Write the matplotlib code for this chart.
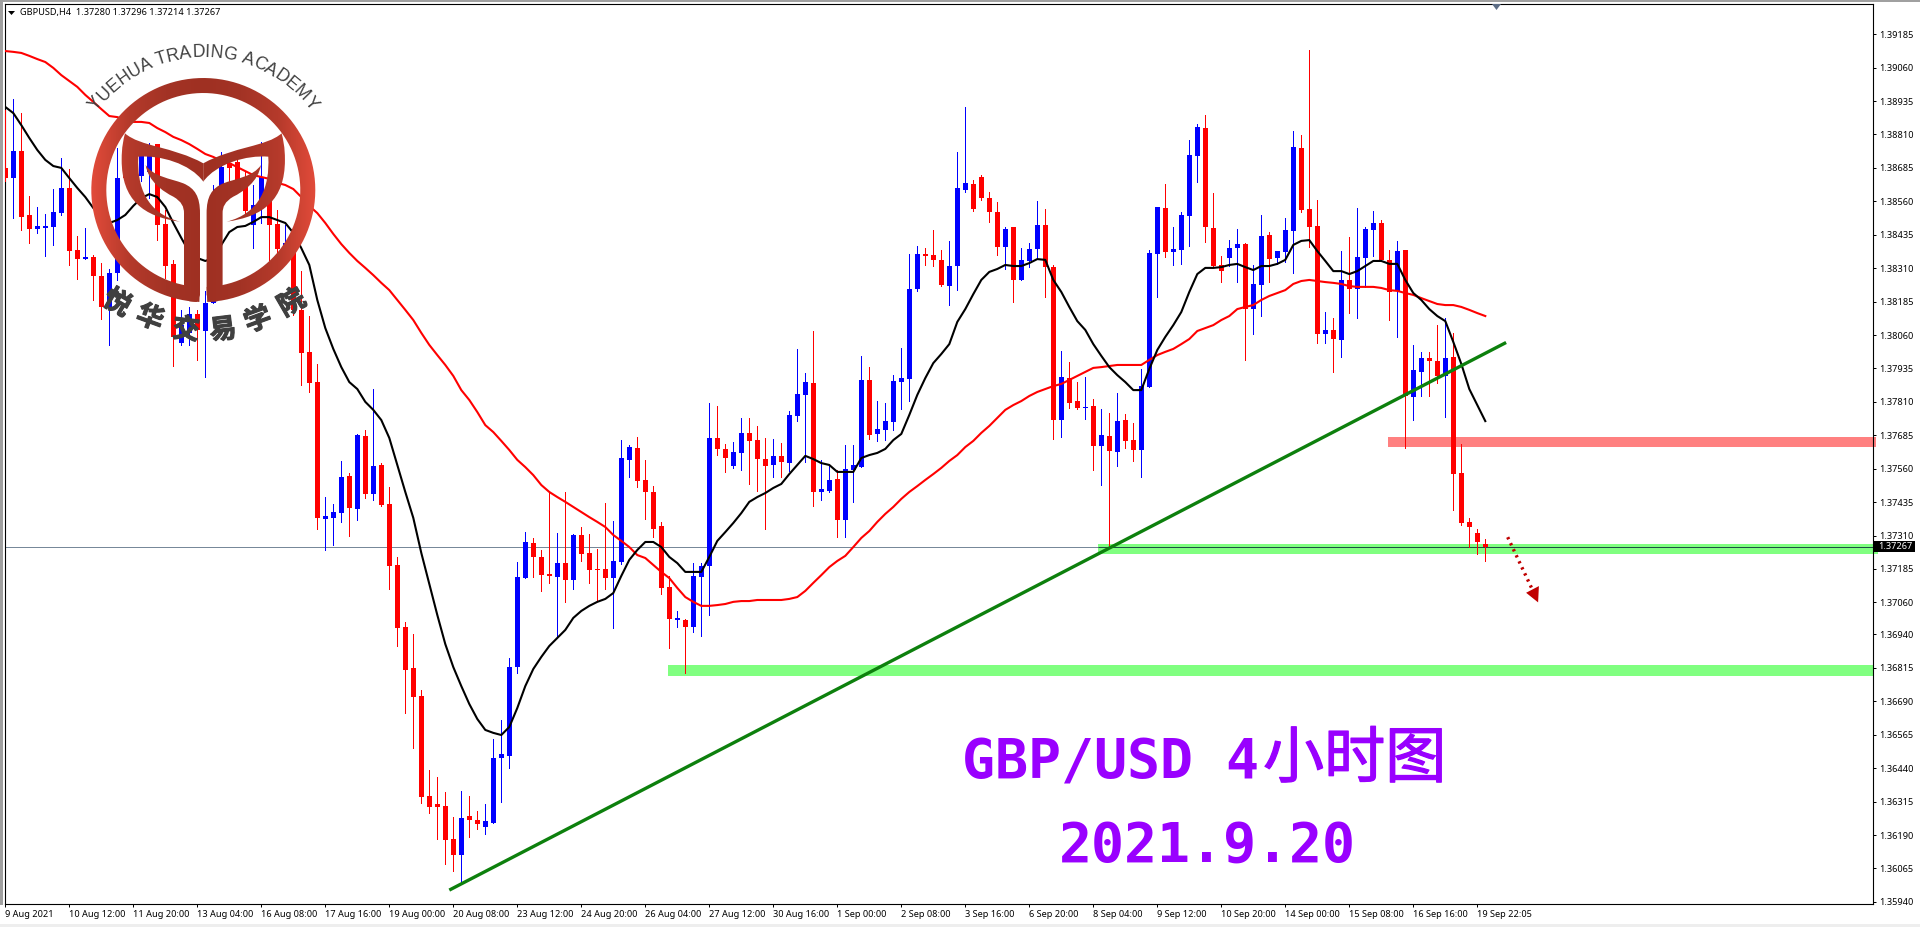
import numpy as np
import matplotlib
matplotlib.use('Agg')
import matplotlib.pyplot as plt
import matplotlib.patheffects as pe
from matplotlib.colors import LinearSegmentedColormap
from matplotlib.patches import PathPatch, Polygon, Rectangle
from matplotlib.path import Path

# GBPUSD H4 candles, prices in points (1.37267 -> 137267)
opens = [
    138685,138647,138748,138509,138457,138460,138464,138516,138610,138378,
    138344,138352,138281,138165,138292,138700,138670,138655,138670,138774,
    138475,138326,138030,138068,138139,138075,138180,138565,138703,138707,
    138640,138471,138546,138640,138475,138374,138378,138154,137997,137884,
    137372,137376,137394,137533,137409,137682,137465,137574,137428,137200,
    136968,136815,136710,136336,136306,136299,136175,136115,136261,136246,
    136220,136235,136478,136486,136818,137151,137282,137230,137166,137155,
    137207,137144,137312,137245,137185,137185,137151,137211,137593,137637,
    137518,137473,137346,137118,136994,136994,136968,137155,137196,137675,
    137634,137570,137619,137694,137667,137596,137574,137608,137581,137757,
    137836,137881,137473,137477,137522,137368,137555,137566,137892,137690,
    137705,137735,137884,137896,138232,138363,138359,138341,138243,138318,
    138602,138625,138651,138572,138520,138389,138464,138266,138337,138382,
    138471,138314,137742,137899,137813,137787,137795,137645,137682,137623,
    137742,137667,137630,137866,138363,138535,138370,138378,138505,138730,
    138834,138460,138322,138348,138385,138400,138157,138247,138434,138348,
    138370,138449,138759,138531,138468,138064,138079,138041,138266,138232,
    138348,138453,138479,138341,138225,138378,137828,137922,137974,137963,
    137907,137978,137544,137361,137320,137280]
highs = [
    138902,138943,138890,138580,138539,138513,138606,138722,138681,138430,
    138460,138359,138329,138307,138759,138733,138752,138771,138778,138774,
    138528,138341,138154,138165,138154,138225,138621,138745,138733,138715,
    138670,138621,138782,138658,138528,138471,138397,138299,138131,137952,
    137454,137428,137589,137544,137690,137705,137858,137581,137492,137230,
    136987,136942,136732,136433,136407,136351,136257,136355,136336,136280,
    136306,136549,136620,136852,137211,137323,137301,137256,137477,137320,
    137473,137316,137342,137316,137260,137432,137364,137667,137649,137679,
    137593,137495,137361,137159,137028,136998,137207,137207,137806,137795,
    137652,137660,137750,137750,137720,137675,137671,137656,137776,138008,
    137918,138075,137593,137574,137555,137649,137649,137982,137940,137813,
    137806,137910,138011,138363,138393,138385,138453,138378,138412,138745,
    138913,138640,138658,138595,138558,138464,138464,138385,138404,138561,
    138531,138322,138000,137959,137884,137903,137821,137783,137768,137843,
    137765,137731,137933,138378,138539,138625,138464,138520,138789,138849,
    138883,138591,138356,138415,138457,138404,138322,138509,138445,138374,
    138498,138823,138808,139126,138565,138146,138124,138374,138427,138535,
    138464,138524,138490,138378,138412,138378,138023,137997,137997,138097,
    138124,138068,137652,137376,137335,137296]
lows = [
    138636,138498,138453,138404,138442,138356,138397,138509,138322,138270,
    138344,138191,138120,138023,138266,138640,138584,138636,138572,138415,
    138273,137944,138023,138023,137967,137903,138180,138509,138621,138602,
    138509,138385,138479,138341,138352,138359,138135,137873,137847,137335,
    137256,137275,137361,137308,137368,137450,137443,137421,137110,136897,
    136646,136515,136310,136272,136175,136082,136055,136011,136183,136213,
    136194,136235,136314,136441,136796,137151,137155,137103,137133,136931,
    137062,137110,137215,137133,137065,137110,136964,137204,137529,137492,
    137372,137305,137091,136889,136968,136796,136949,136934,137013,137611,
    137548,137563,137555,137503,137477,137335,137529,137529,137551,137738,
    137585,137421,137443,137473,137305,137305,137436,137566,137671,137664,
    137667,137705,137783,137813,138225,138322,138318,138243,138172,138228,
    138595,138524,138565,138483,138359,138307,138184,138266,138314,138348,
    138202,137671,137679,137787,137783,137746,137555,137499,137271,137570,
    137637,137589,137529,137866,138202,138352,138322,138326,138393,138632,
    138408,138318,138258,138318,138258,137967,138064,138131,138258,138326,
    138333,138292,138520,138389,138030,138030,137922,137978,138142,138124,
    138240,138356,138341,138116,138053,137637,137742,137832,137832,137881,
    137753,137406,137349,137267,137241,137214]
closes = [
    138647,138748,138501,138457,138468,138468,138520,138610,138374,138344,
    138352,138281,138165,138292,138647,138647,138733,138745,138752,138471,
    138318,138053,138097,138139,138079,138180,138509,138688,138685,138640,
    138524,138546,138651,138471,138382,138404,138154,137993,137881,137376,
    137383,137398,137529,137413,137686,137465,137570,137424,137196,136964,
    136807,136706,136332,136295,136295,136171,136115,136254,136246,136231,
    136242,136478,136493,136818,137155,137286,137230,137162,137159,137207,
    137144,137312,137241,137181,137181,137151,137215,137600,137641,137514,
    137473,137335,137114,136998,137002,136968,137159,137196,137675,137634,
    137600,137623,137694,137664,137596,137570,137608,137585,137761,137839,
    137884,137473,137484,137518,137368,137559,137574,137892,137686,137709,
    137738,137888,137899,138232,138363,138356,138341,138247,138318,138610,
    138629,138531,138572,138520,138389,138457,138266,138341,138382,138471,
    138314,137742,137903,137806,137787,137791,137645,137686,137626,137738,
    137664,137630,137869,138367,138539,138370,138382,138509,138733,138838,
    138464,138318,138299,138385,138400,138157,138251,138430,138344,138374,
    138453,138763,138528,138464,138064,138079,138045,138266,138232,138352,
    138457,138479,138341,138221,138374,137832,137929,137974,137963,137907,
    137974,137540,137357,137342,137286,137267]

# the two moving averages, one value per candle
ma_black = [
    138913,138890,138845,138797,138752,138715,138692,138685,138647,138610,
    138576,138535,138501,138479,138490,138509,138543,138572,138587,138576,
    138539,138479,138423,138370,138348,138337,138348,138397,138445,138464,
    138468,138483,138501,138501,138490,138479,138442,138385,138322,138191,
    138086,138008,137940,137884,137858,137810,137780,137742,137675,137574,
    137473,137376,137245,137129,137013,136904,136818,136747,136680,136624,
    136583,136572,136564,136594,136665,136747,136811,136856,136897,136927,
    136957,137002,137028,137047,137062,137073,137095,137159,137219,137256,
    137286,137286,137267,137230,137207,137174,137174,137174,137230,137290,
    137323,137357,137394,137436,137454,137469,137488,137503,137540,137574,
    137608,137596,137581,137574,137548,137548,137548,137600,137611,137619,
    137634,137667,137690,137761,137836,137899,137955,137989,138026,138109,
    138157,138213,138266,138296,138307,138322,138318,138318,138329,138344,
    138341,138266,138221,138165,138112,138079,138026,137982,137940,137910,
    137884,137854,137854,137933,138004,138053,138097,138146,138221,138288,
    138311,138311,138314,138322,138326,138314,138303,138318,138318,138326,
    138341,138397,138412,138415,138374,138337,138299,138299,138288,138299,
    138318,138337,138337,138326,138326,138266,138217,138191,138157,138131,
    138112,138034,137952,137858,137798,137738]
ma_red = [
    139122,139119,139115,139104,139092,139081,139059,139032,139010,138988,
    138958,138932,138905,138879,138875,138864,138857,138857,138853,138834,
    138819,138801,138789,138774,138756,138737,138726,138711,138703,138688,
    138673,138658,138651,138644,138629,138621,138606,138576,138543,138516,
    138479,138438,138400,138367,138337,138311,138284,138255,138228,138191,
    138154,138116,138068,138023,137985,137948,137907,137854,137817,137772,
    137723,137697,137664,137630,137593,137566,137536,137499,137473,137454,
    137436,137417,137398,137379,137361,137342,137312,137290,137267,137237,
    137226,137200,137174,137151,137114,137080,137062,137047,137047,137050,
    137054,137062,137065,137065,137069,137069,137069,137069,137073,137080,
    137103,137133,137162,137192,137215,137234,137267,137301,137327,137361,
    137391,137417,137447,137473,137495,137518,137540,137563,137589,137611,
    137641,137664,137694,137720,137750,137780,137798,137813,137832,137847,
    137858,137869,137877,137892,137907,137922,137937,137940,137944,137948,
    137948,137948,137948,137967,137985,137997,138008,138026,138045,138075,
    138086,138097,138116,138131,138157,138165,138172,138191,138206,138217,
    138228,138251,138262,138266,138262,138258,138255,138251,138243,138240,
    138240,138240,138236,138228,138225,138217,138210,138198,138187,138176,
    138172,138172,138165,138154,138142,138131]

# drawn objects on the chart: candle index / price points
trend_x = [55.5, 187.6]
trend_y = [135984, 138032]
arrow_x = [187.8, 190.8]
arrow_y = [137304, 137113]
arrow_head_x = [190.1, 191.7, 191.6]
arrow_head_y = [137096, 137121, 137060]
green_zone_1 = [136.6, 234.1, 137241, 137279]
green_zone_2 = [82.8, 233.5, 136785, 136826]
red_zone = [172.8, 233.8, 137641, 137679]

price_ticks = [139185,139060,138935,138810,138685,138560,138435,138310,138185,
               138060,137935,137810,137685,137560,137435,137310,137185,137060,
               136940,136815,136690,136565,136440,136315,136190,136065,135940]
date_labels = ['9 Aug 2021','10 Aug 12:00','11 Aug 20:00','13 Aug 04:00',
               '16 Aug 08:00','17 Aug 16:00','19 Aug 00:00','20 Aug 08:00',
               '23 Aug 12:00','24 Aug 20:00','26 Aug 04:00','27 Aug 12:00',
               '30 Aug 16:00','1 Sep 00:00','2 Sep 08:00','3 Sep 16:00',
               '6 Sep 20:00','8 Sep 04:00','9 Sep 12:00','10 Sep 20:00',
               '14 Sep 00:00','15 Sep 08:00','16 Sep 16:00','19 Sep 22:05']

W, H = 1920, 927
UI_FONT = 'Noto Sans'
UI_SIZE = 6.6

fig = plt.figure(figsize=(W/100, H/100), dpi=100, facecolor='white')
left, right, top, bottom = 4.5, 1872.7, 4, 904
ax = fig.add_axes([left/W, 1-bottom/H, (right-left)/W, (bottom-top)/H])
ax.set_xlim((left-5.3)/8, (right-5.3)/8)
ax.set_ylim(135932, 139298)

o = np.array(opens)
c = np.array(closes)
x = np.arange(len(o))
up = c >= o

# zones go under everything
for zone, col in [(green_zone_1, '#80ff80'), (green_zone_2, '#80ff80'), (red_zone, '#ff8080')]:
    ax.add_patch(Rectangle((zone[0], zone[2]), zone[1]-zone[0], zone[3]-zone[2],
                           facecolor=col, edgecolor='none', zorder=1, clip_on=False))
ax.axhline(closes[-1], color='#778899', lw=0.72, zorder=2)
ax.hlines(closes[-1], green_zone_1[0], green_zone_1[1]-0.7, color='#1c4f45', lw=0.72, zorder=2)

ax.vlines(x[up], np.array(lows)[up], np.array(highs)[up], color='#0000ff', lw=0.68, zorder=3, antialiased=False)
ax.vlines(x[~up], np.array(lows)[~up], np.array(highs)[~up], color='#ff0000', lw=0.68, zorder=3, antialiased=False)
ax.bar(x, np.abs(c-o), bottom=np.minimum(o, c), width=0.66,
       color=np.where(up, '#0000ff', '#ff0000'), linewidth=0, antialiased=False, zorder=3.5)

ax.plot(x, ma_red, color='#ff0000', lw=1.5, zorder=4)
ax.plot(x, ma_black, color='black', lw=1.5, zorder=4.5)
ax.plot(trend_x, trend_y, color='#0d800d', lw=2.4, zorder=5, solid_capstyle='butt')
ax.plot(arrow_x, arrow_y, color='#c00000', lw=2.4, ls=(0, (0.7, 1.3)), zorder=5)
ax.add_patch(Polygon(np.column_stack([arrow_head_x, arrow_head_y]), closed=True,
                     facecolor='#c00000', edgecolor='none', zorder=5))

for s in ax.spines.values():
    s.set_linewidth(0.8)
    s.set_color('black')
ax.yaxis.tick_right()
ax.set_yticks(price_ticks)
ax.set_yticklabels(['%.5f' % (p/100000) for p in price_ticks], fontfamily=UI_FONT, fontsize=UI_SIZE)
ax.set_xticks(np.arange(len(date_labels))*8)
ax.set_xticklabels(date_labels, fontfamily=UI_FONT, fontsize=UI_SIZE, ha='left')
ax.tick_params(axis='both', length=2.2, width=0.72, color='black', pad=2.4, labelcolor='black')

# overlay in pixels for the window furniture, big captions and the logo
px = fig.add_axes([0, 0, 1, 1], facecolor='none')
px.set_xlim(0, W)
px.set_ylim(H, 0)
px.axis('off')

px.add_patch(Rectangle((0, 0), W, 2, facecolor='#a0a0a0', edgecolor='none'))
px.add_patch(Rectangle((0, 0), 2.5, 905, facecolor='#a0a0a0', edgecolor='none'))
px.add_patch(Rectangle((0, 924), W, 3, facecolor='#eeeeee', edgecolor='none'))

px.add_patch(Polygon([(8, 11), (15, 11), (11.5, 15)], facecolor='black', edgecolor='none'))
px.add_patch(Polygon([(1492, 4), (1501, 4), (1496.5, 10)], facecolor='#5d6d85', edgecolor='none'))
px.text(20, 12.5, 'GBPUSD,H4  1.37280 1.37296 1.37214 1.37267', family=UI_FONT,
        fontsize=UI_SIZE, va='center', ha='left', color='black')

px.add_patch(Rectangle((1874, 541), 41, 11, facecolor='black', edgecolor='none'))
px.text(1878, 546.5, '1.37267', family=UI_FONT, fontsize=UI_SIZE, color='white', va='center', ha='left')

PURPLE = '#9900ff'
px.text(962, 778, 'GBP/USD 4', family='DejaVu Sans Mono', weight='bold', fontsize=39.5,
        color=PURPLE, va='baseline', ha='left')
px.text(1263, 760, '小时图', family='Noto Sans CJK SC', fontsize=44, color=PURPLE, va='center', ha='left',
        path_effects=[pe.withStroke(linewidth=0.9, foreground=PURPLE)])
px.text(1059, 862, '2021.9.20', family='DejaVu Sans Mono', weight='bold', fontsize=39.5,
        color=PURPLE, va='baseline', ha='left')

# logo, outlines taken from the 3x crop and scaled down
CX, CY = 203.3, 190.0
MV, LN, CU, CL = Path.MOVETO, Path.LINETO, Path.CURVE4, Path.CLOSEPOLY
z = lambda pts: [(a/3, b/3) for a, b in pts]
crescent_pts = z([(375, 400), (420, 440), (520, 440), (610, 490), (610, 545), (570, 490), (480, 465),
                  (415, 470), (410, 560), (440, 640), (540, 665), (430, 650), (365, 600), (365, 480),
                  (365, 440), (370, 420), (375, 400)])
crescent_codes = [MV, CU, CU, CU, LN, CU, CU, CU, CU, CU, CU, CU, CU, CU, CU, CU, CU]
stem_pts = z([(437, 495), (445, 545), (490, 575), (520, 590), (545, 605), (552, 620), (552, 640),
              (552, 855), (568, 904), (590, 906), (600, 885), (600, 640), (600, 590), (585, 565),
              (550, 550), (510, 535), (460, 530), (437, 495)])
stem_codes = [MV, CU, CU, CU, CU, CU, CU, LN, LN, LN, LN, LN, CU, CU, CU, CU, CU, CU]
mirror = lambda pts: [(2*CX-a, b) for a, b in pts]

gap = np.radians(2.0)
t = np.linspace(-np.pi+gap, np.pi-gap, 240)
ring_out = np.column_stack([CX+112*np.sin(t), CY-112*np.cos(t)])
ring_in = np.column_stack([CX+97*np.sin(t), CY-97*np.cos(t)])[::-1]
ring = np.vstack([ring_out, ring_in])
pieces = [Path(ring), Path(crescent_pts, crescent_codes), Path(mirror(crescent_pts), crescent_codes),
          Path(stem_pts, stem_codes), Path(mirror(stem_pts), stem_codes)]
logo_cmap = LinearSegmentedColormap.from_list(
    'logo', ['#e24b3a', '#b53a2b', '#a33325', '#9f3022', '#a33325', '#b53a2b', '#e24b3a'])
grad = np.linspace(0, 1, 256).reshape(1, -1)
for piece in pieces:
    patch = PathPatch(piece, facecolor='none', edgecolor='none', transform=px.transData)
    px.add_patch(patch)
    im = px.imshow(grad, cmap=logo_cmap, extent=(91, 316, 310, 70), aspect='auto', zorder=10)
    im.set_clip_path(patch)
px.set_xlim(0, W)
px.set_ylim(H, 0)

arc_text = 'YUEHUA TRADING ACADEMY'
arc_widths = [.667, .722, .667, .722, .722, .667, .278, .611, .722, .667, .722, .278, .722, .778,
              .278, .667, .722, .667, .722, .667, .833, .667]
em = 17.6
r_txt = 133.0
pos = 0.0
total = sum(arc_widths)*em
for ch, wd in zip(arc_text, arc_widths):
    mid = pos + wd*em/2
    th = (mid-total/2)/r_txt
    pos += wd*em
    px.text(CX+r_txt*np.sin(th), CY-r_txt*np.cos(th), ch, family='Liberation Sans', fontsize=12.7,
            color='#404040', rotation=-np.degrees(th), rotation_mode='anchor',
            ha='center', va='baseline', zorder=11)

cn_chars = '悦华交易学院'
cn_x = [117, 150, 186, 223, 258, 292]
cn_y = [303, 318, 330, 330, 320, 303]
cn_rot = [-30, -20, -7, 7, 20, 30]
for ch, a, b, rot in zip(cn_chars, cn_x, cn_y, cn_rot):
    px.text(a, b, ch, family='Noto Sans CJK SC', weight='bold', fontsize=19.5, color='#404040',
            rotation=rot, rotation_mode='anchor', ha='center', va='center', zorder=11,
            path_effects=[pe.withStroke(linewidth=0.8, foreground='#404040')])

fig.savefig('out.png', dpi=100)
